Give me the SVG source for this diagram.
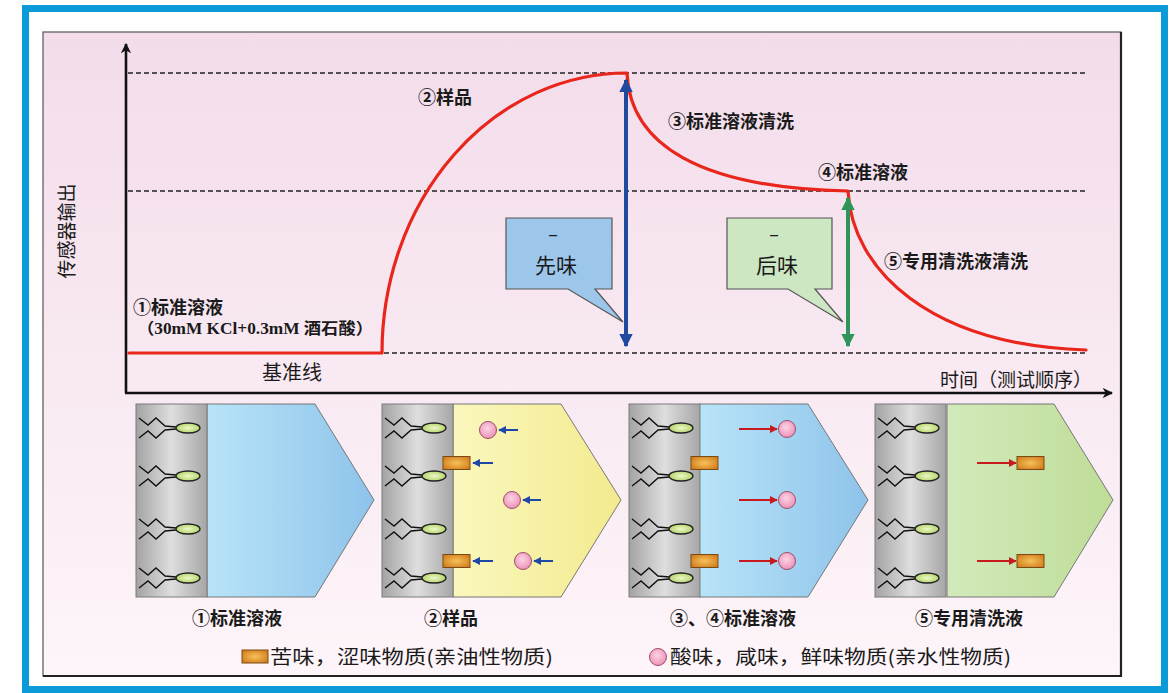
<svg xmlns="http://www.w3.org/2000/svg" xmlns:xlink="http://www.w3.org/1999/xlink" width="1176" height="693" viewBox="0 0 1176 693">
  <style>
    .cjk { font-family: "Noto Sans CJK SC", "Noto Sans", sans-serif; fill: #1a1a1a; }
    .b { font-weight: bold; }
    .dash { stroke: #222; stroke-width: 1.6; stroke-dasharray: 5 3; fill: none; }
    .axis { stroke: #111; stroke-width: 2.6; fill: none; }
    .curve { stroke: #e8261c; stroke-width: 3.2; fill: none; stroke-linecap: round; stroke-linejoin: round; }
    .tail { stroke: #111; stroke-width: 1.4; fill: none; stroke-linejoin: miter; }
    .head { fill: url(#gHead); stroke: #222; stroke-width: 1.3; }
    .mem { fill: url(#gMem); stroke: #7a7a7a; stroke-width: 1; }
    .sol { stroke: #777; stroke-width: 1; }
    .oil { fill: url(#gOil); stroke: #7a4a16; stroke-width: 1; }
    .aq { fill: url(#gAq); stroke: #9a4f6c; stroke-width: 1; }
    .inA { stroke: #1f47a6; stroke-width: 2; fill: none; marker-end: url(#mBlueS); }
    .outA { stroke: #c8191c; stroke-width: 2; fill: none; marker-end: url(#mRedS); }
  </style>
  <defs>
    <linearGradient id="gBg" x1="0" y1="0" x2="0" y2="1">
      <stop offset="0" stop-color="#f3dcea"/>
      <stop offset="1" stop-color="#fdf5f9"/>
    </linearGradient>
    <linearGradient id="gMem" x1="0" y1="0" x2="1" y2="0">
      <stop offset="0" stop-color="#a3a3a3"/>
      <stop offset="0.5" stop-color="#dedede"/>
      <stop offset="1" stop-color="#a6a6a6"/>
    </linearGradient>
    <linearGradient id="gBlue" x1="0" y1="0" x2="1" y2="0">
      <stop offset="0" stop-color="#b8e4f8"/>
      <stop offset="1" stop-color="#8ec3ea"/>
    </linearGradient>
    <linearGradient id="gYellow" x1="0" y1="0" x2="1" y2="0">
      <stop offset="0" stop-color="#faf7bd"/>
      <stop offset="1" stop-color="#f3ea8e"/>
    </linearGradient>
    <linearGradient id="gGreen" x1="0" y1="0" x2="1" y2="0">
      <stop offset="0" stop-color="#d2eabb"/>
      <stop offset="1" stop-color="#bfdc98"/>
    </linearGradient>
    <radialGradient id="gHead" cx="0.5" cy="0.5" r="0.6">
      <stop offset="0" stop-color="#eef7c8"/>
      <stop offset="1" stop-color="#a9cf5a"/>
    </radialGradient>
    <radialGradient id="gOil" cx="0.5" cy="0.5" r="0.6">
      <stop offset="0" stop-color="#f6c15c"/>
      <stop offset="1" stop-color="#d27e1c"/>
    </radialGradient>
    <radialGradient id="gAq" cx="0.45" cy="0.4" r="0.6">
      <stop offset="0" stop-color="#fbd3e4"/>
      <stop offset="1" stop-color="#ef92b8"/>
    </radialGradient>
    <marker id="mBlueS" viewBox="0 0 10 10" refX="9" refY="5" markerWidth="4" markerHeight="4" orient="auto" markerUnits="strokeWidth">
      <path d="M0,0 L10,5 L0,10 z" fill="#1f47a6"/>
    </marker>
    <marker id="mRedS" viewBox="0 0 10 10" refX="9" refY="5" markerWidth="4" markerHeight="4" orient="auto" markerUnits="strokeWidth">
      <path d="M0,0 L10,5 L0,10 z" fill="#c8191c"/>
    </marker>
    <marker id="mAxis" viewBox="0 0 10 10" refX="9" refY="5" markerWidth="4" markerHeight="4" orient="auto" markerUnits="strokeWidth">
      <path d="M0,0 L10,5 L0,10 L3,5 z" fill="#111"/>
    </marker>
    <marker id="mBlue" viewBox="0 0 10 10" refX="9" refY="5" markerWidth="3.4" markerHeight="3.4" orient="auto-start-reverse" markerUnits="strokeWidth">
      <path d="M0,0 L10,5 L0,10 z" fill="#1f4aa0"/>
    </marker>
    <marker id="mGreen" viewBox="0 0 10 10" refX="9" refY="5" markerWidth="3.4" markerHeight="3.4" orient="auto-start-reverse" markerUnits="strokeWidth">
      <path d="M0,0 L10,5 L0,10 z" fill="#2e945a"/>
    </marker>
    <!-- one lipid molecule: two hydrocarbon tails and a polar head -->
    <g id="lipid">
      <path class="tail" d="M3,-10 L12,-3 L20,-10 L29,-2 L40,-1"/>
      <path class="tail" d="M3,10 L12,3 L20,10 L29,2 L40,1"/>
      <ellipse class="head" cx="52" cy="0" rx="12" ry="5"/>
    </g>
    <!-- membrane strip with four lipids -->
    <g id="membrane">
      <rect class="mem" x="0" y="404" width="71" height="193"/>
      <use xlink:href="#lipid" y="428"/>
      <use xlink:href="#lipid" y="476"/>
      <use xlink:href="#lipid" y="529"/>
      <use xlink:href="#lipid" y="578"/>
    </g>
    <rect id="oilMol" class="oil" x="0" y="-6.5" width="27" height="13"/>
    <circle id="aqMol" class="aq" cx="0" cy="0" r="8.5"/>
  </defs>

  <!-- frame and background -->
  <rect x="0" y="0" width="1176" height="693" fill="#ffffff"/>
  <rect x="25.5" y="8.5" width="1139" height="681" fill="#ffffff" stroke="#0a9bd8" stroke-width="7"/>
  <rect x="43" y="32" width="1078" height="644" fill="url(#gBg)" stroke="#555" stroke-width="1.2"/>
  <path d="M1121,32 L1121,676 L43,676" stroke="#222" stroke-width="2.2" fill="none"/>

  <!-- chart -->
  <g id="chart">
    <path class="dash" d="M128,73 H1088"/>
    <path class="dash" d="M128,191 H1088"/>
    <path class="dash" d="M384,353 H1088"/>
    <path class="axis" d="M126,393 V44" marker-end="url(#mAxis)"/>
    <path class="axis" d="M125,393 H1112" marker-end="url(#mAxis)"/>
  </g>

  <g id="response-curve">
    <path class="curve" d="M129,353 H382 A245,280 0 0 1 627,73 C630,145 700,188 848,191 C852,270 930,345 1086,350"/>
  </g>

  <g id="connectors">
    <path d="M626,80 V346" stroke="#1f4aa0" stroke-width="4" fill="none" marker-start="url(#mBlue)" marker-end="url(#mBlue)"/>
    <path d="M848,198 V346" stroke="#2e945a" stroke-width="4" fill="none" marker-start="url(#mGreen)" marker-end="url(#mGreen)"/>
  </g>

  <g id="callout-first">
    <path d="M506,218 H612 V289 H595 L623,322 L568,289 H506 Z" fill="#9dc7ea" stroke="#555" stroke-width="1.2"/>
    <text class="cjk" x="553" y="241" font-size="18" text-anchor="middle">–</text>
    <text class="cjk" x="556" y="273" font-size="21" text-anchor="middle">先味</text>
  </g>
  <g id="callout-after">
    <path d="M727,218 H832 V289 H815 L843,322 L788,289 H727 Z" fill="#cde7c3" stroke="#555" stroke-width="1.2"/>
    <text class="cjk" x="774" y="241" font-size="18" text-anchor="middle">–</text>
    <text class="cjk" x="777" y="273" font-size="21" text-anchor="middle">后味</text>
  </g>

  <g id="chart-labels">
    <text class="cjk" font-size="19" transform="translate(74,231) rotate(-90)" text-anchor="middle">传感器输出</text>
    <text class="cjk b" x="418" y="104" font-size="18">②样品</text>
    <text class="cjk b" x="668" y="128" font-size="18">③标准溶液清洗</text>
    <text class="cjk b" x="818" y="179" font-size="18">④标准溶液</text>
    <text class="cjk b" x="884" y="268" font-size="18">⑤专用清洗液清洗</text>
    <text class="cjk b" x="133" y="314" font-size="18">①标准溶液</text>
    <text x="137" y="334" font-size="16" font-weight="bold" fill="#1a1a1a" font-family="'Liberation Serif', 'Noto Sans CJK SC', serif" textLength="236" lengthAdjust="spacingAndGlyphs">（30mM KCl+0.3mM 酒石酸）</text>
    <text class="cjk" x="262" y="380" font-size="20">基准线</text>
    <text class="cjk" x="940" y="387" font-size="19">时间（测试顺序）</text>
  </g>

  <!-- panel 1: standard solution -->
  <g id="panel-1">
    <path class="sol" d="M207,404 H315 L374,500 L315,597 H207 Z" fill="url(#gBlue)"/>
    <use xlink:href="#membrane" x="136"/>
    <text class="cjk b" x="237" y="625" font-size="18" text-anchor="middle">①标准溶液</text>
  </g>

  <!-- panel 2: sample -->
  <g id="panel-2">
    <path class="sol" d="M453,404 H561 L621,500 L561,597 H453 Z" fill="url(#gYellow)"/>
    <use xlink:href="#membrane" x="382"/>
    <use xlink:href="#oilMol" x="443" y="463"/>
    <use xlink:href="#oilMol" x="443" y="561"/>
    <use xlink:href="#aqMol" x="488" y="430"/>
    <use xlink:href="#aqMol" x="512" y="500"/>
    <use xlink:href="#aqMol" x="523" y="561"/>
    <path class="inA" d="M518,430 H499"/>
    <path class="inA" d="M541,500 H523"/>
    <path class="inA" d="M553,561 H534"/>
    <path class="inA" d="M493,463 H473"/>
    <path class="inA" d="M493,561 H473"/>
    <text class="cjk b" x="451" y="625" font-size="18" text-anchor="middle">②样品</text>
  </g>

  <!-- panel 3: standard solution rinse -->
  <g id="panel-3">
    <path class="sol" d="M699,404 H808 L868,500 L808,597 H699 Z" fill="url(#gBlue)"/>
    <use xlink:href="#membrane" x="629"/>
    <use xlink:href="#oilMol" x="691" y="463"/>
    <use xlink:href="#oilMol" x="691" y="561"/>
    <use xlink:href="#aqMol" x="787" y="429"/>
    <use xlink:href="#aqMol" x="787" y="500"/>
    <use xlink:href="#aqMol" x="787" y="561"/>
    <path class="outA" d="M739,429 H777"/>
    <path class="outA" d="M739,500 H777"/>
    <path class="outA" d="M739,561 H777"/>
    <text class="cjk b" x="733" y="625" font-size="18" text-anchor="middle">③、④标准溶液</text>
  </g>

  <!-- panel 4: cleaning solution -->
  <g id="panel-4">
    <path class="sol" d="M947,404 H1054 L1113,500 L1054,597 H947 Z" fill="url(#gGreen)"/>
    <use xlink:href="#membrane" x="875"/>
    <use xlink:href="#oilMol" x="1017" y="463"/>
    <use xlink:href="#oilMol" x="1017" y="561"/>
    <path class="outA" d="M977,463 H1016"/>
    <path class="outA" d="M977,561 H1016"/>
    <text class="cjk b" x="969" y="625" font-size="18" text-anchor="middle">⑤专用清洗液</text>
  </g>

  <!-- legend -->
  <g id="legend">
    <rect class="oil" x="242" y="650" width="26" height="13"/>
    <text class="cjk" x="270" y="664" font-size="19" textLength="283" lengthAdjust="spacingAndGlyphs">苦味，涩味物质(亲油性物质)</text>
    <circle class="aq" cx="658" cy="657" r="8.5"/>
    <text class="cjk" x="670" y="664" font-size="19" textLength="341" lengthAdjust="spacingAndGlyphs">酸味，咸味，鲜味物质(亲水性物质)</text>
  </g>
</svg>
